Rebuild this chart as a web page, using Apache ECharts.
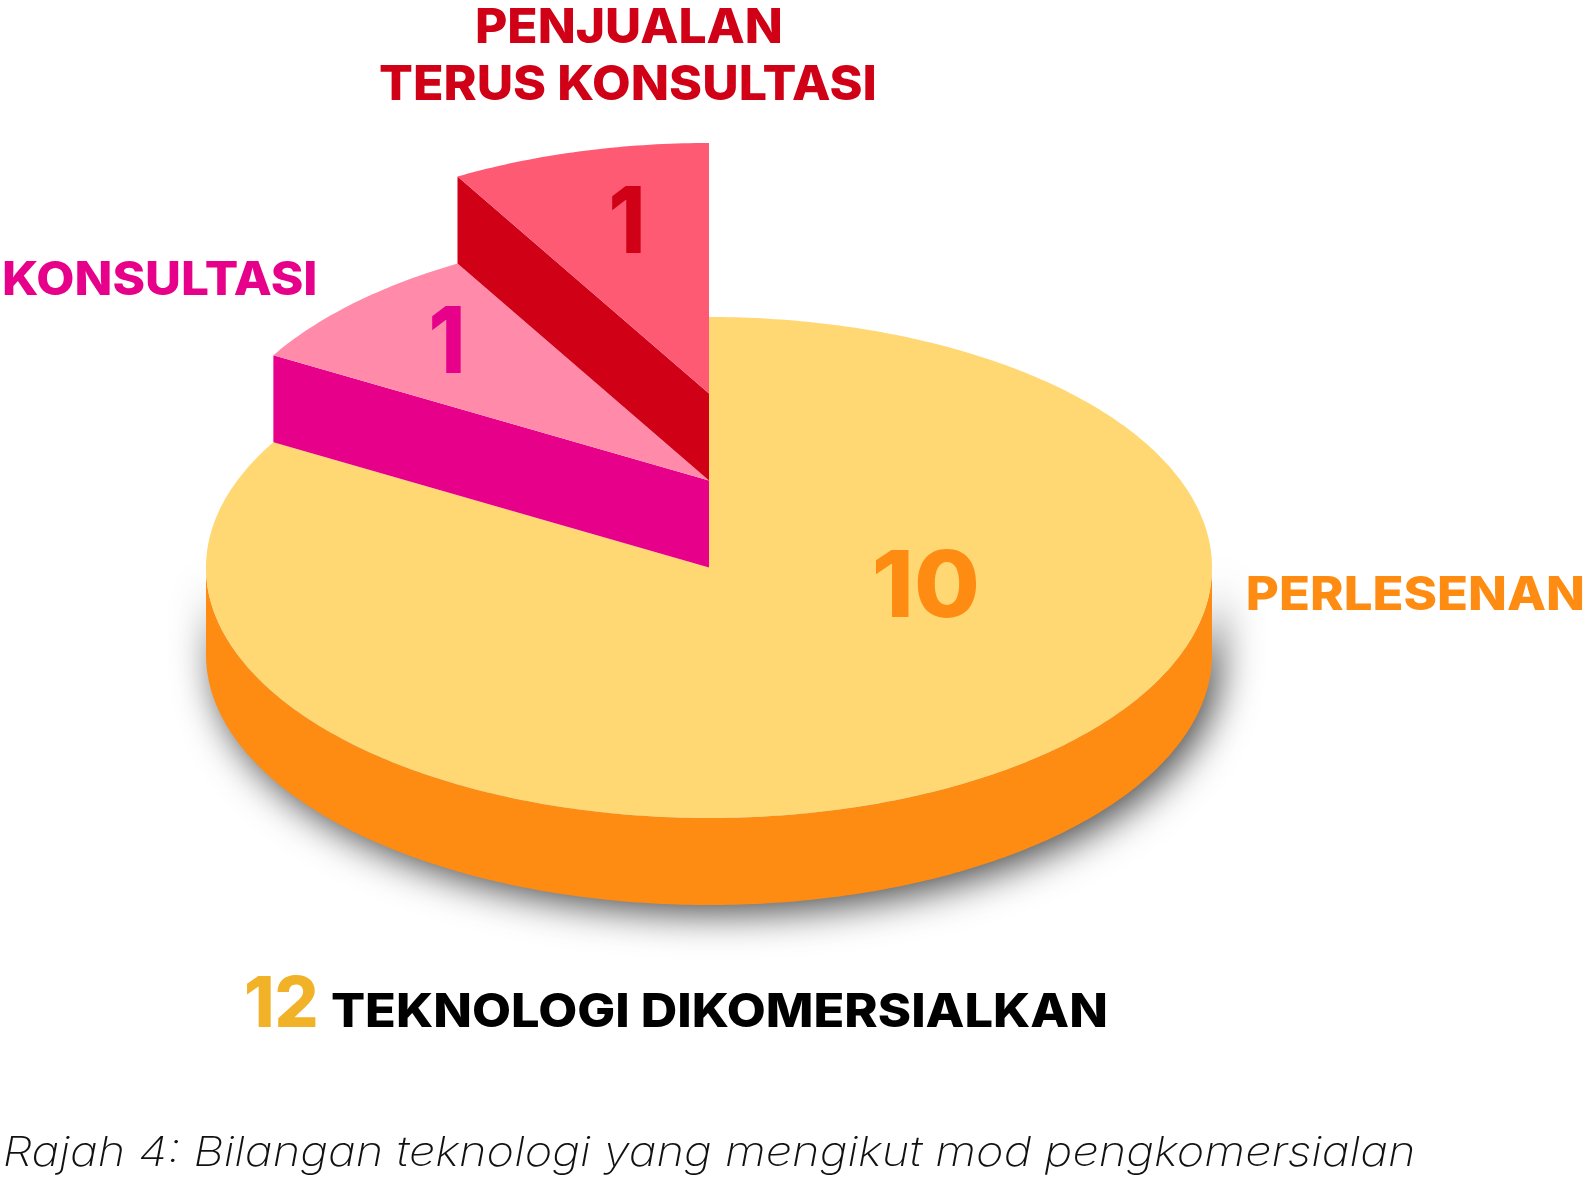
<!DOCTYPE html>
<html>
<head>
<meta charset="utf-8">
<style>html,body{margin:0;padding:0;background:#fff}#c{width:1589px;height:1177px}</style>
<script src="https://cdn.jsdelivr.net/npm/echarts@6/dist/echarts.min.js"></script>
</head>
<body>
<div id="c"></div>
<script>
// Data
const categories = ['PERLESENAN', 'KONSULTASI', 'PENJUALAN\nTERUS KONSULTASI'];
const values = [10, 1, 1];
const totalLabel = 'TEKNOLOGI DIKOMERSIALKAN';
const caption = 'Rajah 4: Bilangan teknologi yang mengikut mod pengkomersialan';

// Palette
const topColors = ['#FFD873', '#FF8AA9', '#FF5A73'];
const sideColors = ['#FF8C12', '#E6008A', '#D00016'];
const totalColor = '#F2B227';

// Projection: unit circle on hidden axes, one slab = this many y units
const SLAB = 87 / 250.5;
const FONT = 'Inter, "Open Sans", sans-serif';

const total = values.reduce((a, b) => a + b, 0);
let cum = 0;
const seriesData = values.map((v, i) => {
  const row = [cum / total, (cum + v) / total, i];
  cum += v;
  return row;
});

function renderItem(params, api) {
  const i = params.dataIndex;
  const a0 = api.value(0) * 2 * Math.PI, a1 = api.value(1) * 2 * Math.PI, lvl = api.value(2);
  const P = (a, h) => api.coord([Math.sin(a), Math.cos(a) + h * SLAB]);
  const C = h => api.coord([0, h * SLAB]);
  const children = [];
  const N = 240;
  // outer wall: only the arc that faces the viewer
  const f0 = Math.max(a0, Math.PI / 2), f1 = Math.min(a1, Math.PI * 1.5);
  if (f1 > f0) {
    const up = [], down = [];
    for (let k = 0; k <= N; k++) {
      const a = f0 + (f1 - f0) * k / N;
      up.push(P(a, lvl));
      down.unshift(P(a, lvl - 1));
    }
    children.push({
      type: 'polygon',
      shape: { points: up.concat(down) },
      style: { fill: sideColors[i], shadowBlur: 38, shadowColor: 'rgba(0,0,0,0.72)', shadowOffsetX: 8, shadowOffsetY: 8 }
    });
  }
  // radial wall on the slice's leading edge
  if (lvl > 0) {
    children.push({
      type: 'polygon',
      shape: { points: [C(lvl), P(a0, lvl), P(a0, lvl - 1), C(lvl - 1)] },
      style: { fill: sideColors[i] }
    });
  }
  // top face
  const pts = [C(lvl)];
  const M = Math.max(8, Math.round(N * (a1 - a0) / Math.PI));
  for (let k = 0; k <= M; k++) pts.push(P(a0 + (a1 - a0) * k / M, lvl));
  children.push({ type: 'polygon', shape: { points: pts }, style: { fill: topColors[i] } });
  return { type: 'group', children };
}

// Text placed by its ink box: left, right, cap top, baseline
const ctx = document.createElement('canvas').getContext('2d');
function label(text, left, right, top, base, fill, weight, italic) {
  const size = (base - top) / 0.727;
  const font = (italic ? 'italic ' : '') + weight + ' ' + size + 'px ' + FONT;
  ctx.font = font;
  const m = ctx.measureText(text);
  const ink = m.actualBoundingBoxLeft + m.actualBoundingBoxRight;
  const sx = (right - left) / ink;
  return {
    type: 'text', silent: true, z: 100,
    x: left + m.actualBoundingBoxLeft * sx, y: (top + base) / 2 + size * 0.075,
    scaleX: sx, scaleY: 1, originX: 0, originY: 0,
    style: { text, font, fill, align: 'left', verticalAlign: 'middle' }
  };
}
const [lic, con, sal] = categories;
const salLines = sal.split('\n');
const texts = [
  label(salLines[0], 477, 781, 7, 42, sideColors[2], 800),
  label(salLines[1], 380, 875, 64, 99, sideColors[2], 800),
  label(con, 4, 315, 260, 294, sideColors[1], 800),
  label(lic, 1248, 1583, 575, 609, sideColors[0], 800),
  label(String(values[0]), 876, 977, 549, 616, sideColors[0], 800),
  label(String(values[1]), 432, 461, 305, 372, sideColors[1], 800),
  label(String(values[2]), 612, 641, 185, 252, sideColors[2], 800),
  label(String(total), 247, 316, 975, 1026, totalColor, 800),
  label(totalLabel, 332, 1106, 992, 1026, '#000', 800),
  label(caption, 5, 1413, 1136, 1166, '#111', 200, true)
];

const chart = echarts.init(document.getElementById('c'), null, { renderer: 'canvas' });
chart.setOption({
  animation: false,
  backgroundColor: '#fff',
  grid: { left: 206, width: 1006, top: 317, height: 501, show: false },
  xAxis: { type: 'value', min: -1, max: 1, show: false },
  yAxis: { type: 'value', min: -1, max: 1, show: false },
  series: [{ type: 'custom', coordinateSystem: 'cartesian2d', clip: false, silent: true,
    data: seriesData, renderItem,
    encode: { x: 0, y: 1 } }],
  graphic: { elements: texts }
});
</script>
</body>
</html>
